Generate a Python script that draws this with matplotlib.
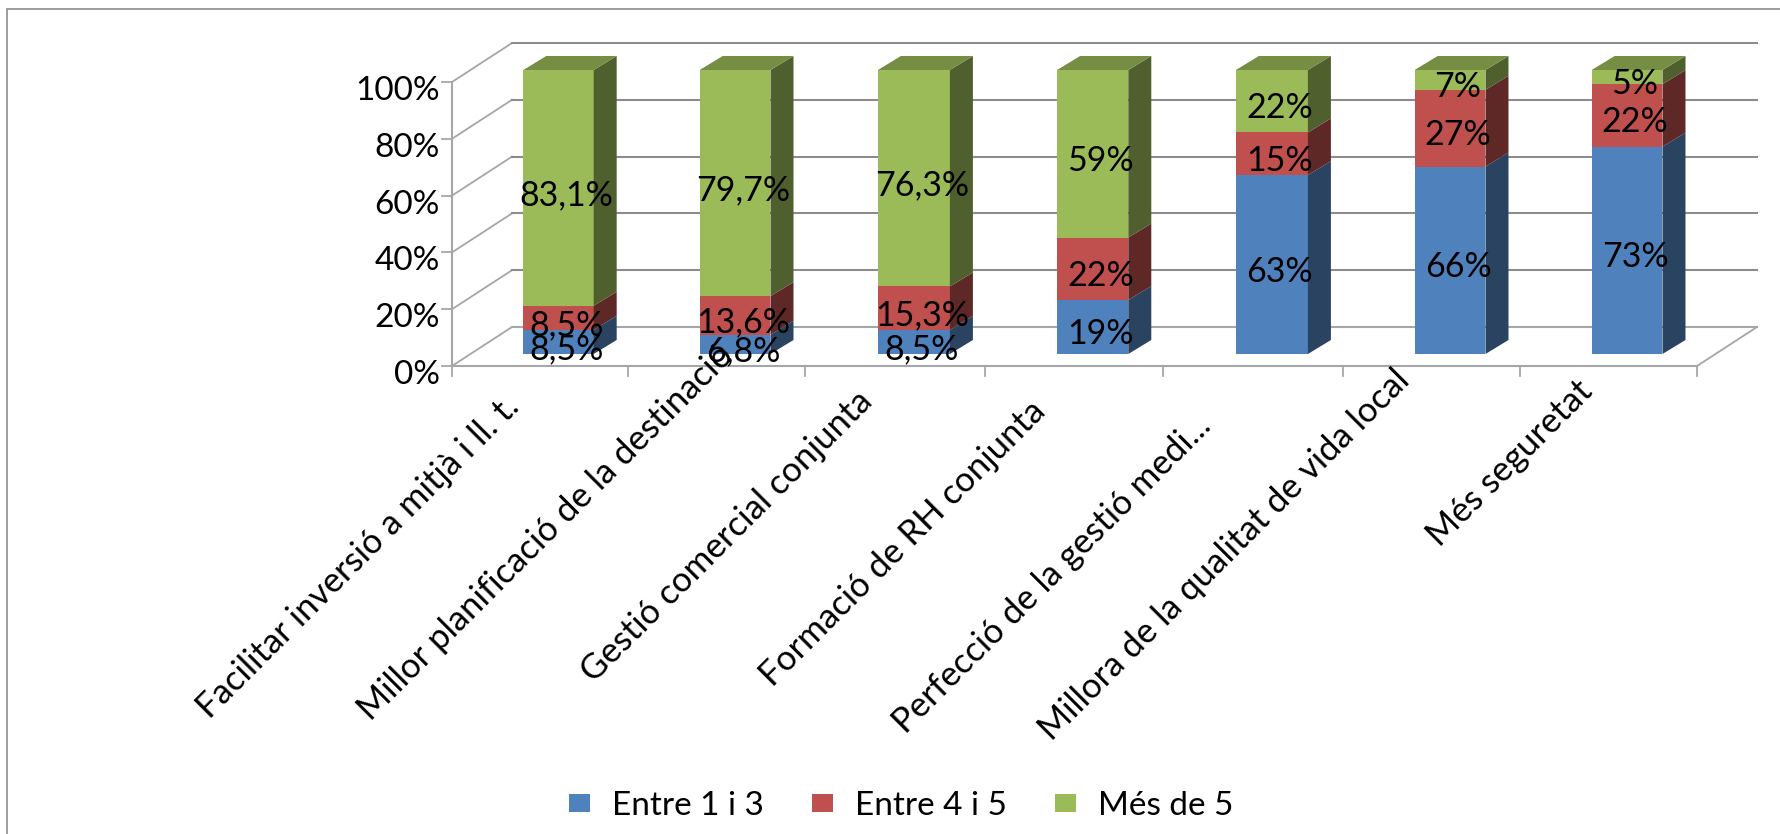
import numpy as np
import matplotlib
matplotlib.use("Agg")
import matplotlib.pyplot as plt
from matplotlib.patches import Polygon, Rectangle, Patch
from matplotlib.lines import Line2D

categories = ["Facilitar inversió a mitjà i ll. t.", "Millor planificació de la destinació",
              "Gestió comercial conjunta", "Formació de RH conjunta",
              "Perfecció de la gestió medi...", "Millora de la qualitat de vida local", "Més seguretat"]
series_names = ["Entre 1 i 3", "Entre 4 i 5", "Més de 5"]
entre_1_3 = [8.5, 6.8, 8.5, 19, 63, 66, 73]
entre_4_5 = [8.5, 13.6, 15.3, 22, 15, 27, 22]
mes_de_5 = [83.1, 79.7, 76.3, 59, 22, 7, 5]
labels_1_3 = ["8,5%", "6,8%", "8,5%", "19%", "63%", "66%", "73%"]
labels_4_5 = ["8,5%", "13,6%", "15,3%", "22%", "15%", "27%", "22%"]
labels_5 = ["83,1%", "79,7%", "76,3%", "59%", "22%", "7%", "5%"]
y_ticks = [0, 20, 40, 60, 80, 100]

# ---- layout (pixels) ----
W, H = 1780, 834
SLOT_EDGES = [452, 628, 805, 985, 1163, 1343, 1520, 1697]
FLOOR_Y, TOP_Y = 366, 82
WALL_DX, WALL_DY = 60, 39
BAR_DX, BAR_DY = 23, 14
BAR_LIFT = 12
BAR_WIDTH, BAR_SHIFT = 0.40, 0.105
# end of each rotated category label, relative to slot centre (x right, y down from floor)
LABEL_END_DX = [-26, 12, -28, -34, -47, -27, -21]
LABEL_END_DY = [36, -16, 30, 40, 55, 9, 20]
FRONT = ["#4F81BD", "#C0504D", "#9BBB59"]
SIDE = ["#294361", "#5E2826", "#4F5F2D"]
TOP = ["#3F6797", "#9A403E", "#758E44"]
FONT = "Lato"
GRID = "#8C8C8C"
WALL = "#A6A6A6"

plt.rcParams["font.family"] = [FONT, "DejaVu Sans"]
fig = plt.figure(figsize=(W / 100, H / 100), dpi=100, facecolor="white")
ax = fig.add_axes([SLOT_EDGES[0] / W, 1 - FLOOR_Y / H,
                   (SLOT_EDGES[-1] - SLOT_EDGES[0]) / W, (FLOOR_Y - TOP_Y) / H])
nodes = np.arange(len(SLOT_EDGES), dtype=float)
edges = np.array(SLOT_EDGES, dtype=float)
ax.set_xscale("function", functions=(lambda v: np.interp(v, nodes, edges),
                                     lambda p: np.interp(p, edges, nodes)))
ax.set_xlim(0, len(categories))
ax.set_ylim(0, 100)
ax.patch.set_alpha(0)
for s in ax.spines.values():
    s.set_visible(False)

def px(x, y):
    """data -> display coordinates"""
    return ax.transData.transform((x, y))

def poly(points, **kw):
    fig.add_artist(Polygon(points, closed=True, transform=None, **kw))

def line(points, color, lw=1.3, z=1):
    p = np.array(points, dtype=float)
    fig.add_artist(Line2D(p[:, 0], p[:, 1], transform=None, color=color, lw=lw, zorder=z))

# outer frame
fig.add_artist(Rectangle((6.5, -20), W + 40, H + 20 - 8.5, transform=None, fill=False,
                         edgecolor="#8C8C8C", lw=1.2, zorder=0))

# walls and gridlines
right = len(categories)
for v in y_ticks:
    a = px(0, v)
    b = a + (WALL_DX, WALL_DY)
    c = np.array([SLOT_EDGES[-1] + WALL_DX, b[1]])
    line([a, b], WALL)
    line([b, c], GRID if v else WALL, lw=1.5)
    line([a, a - (10, 0)], WALL)
line([px(0, 0), px(0, 100)], WALL, lw=1.5)
line([px(0, 0), px(right, 0)], WALL, lw=1.5)
fr = px(right, 0)
line([fr, (SLOT_EDGES[-1] + WALL_DX, fr[1] + WALL_DY)], WALL)
for i in range(len(SLOT_EDGES)):
    t = px(i, 0)
    line([t, t - (0, 10)], WALL)

# y tick labels
for v in y_ticks:
    a = px(0, v)
    fig.text(a[0] - 12, a[1] - 9, f"{v}%", transform=None, ha="right", va="center",
             fontsize=24, color="black", zorder=5)
ax.set_xticks([])
ax.set_yticks([])

# stacked bars
series = np.array([entre_1_3, entre_4_5, mes_de_5], dtype=float)
text_series = [labels_1_3, labels_4_5, labels_5]
bottoms = np.zeros(len(categories))
totals = series.sum(axis=0)
for k in range(3):
    values = series[k] / totals * 100
    for i in range(len(categories)):
        x0 = i + 0.5 + BAR_SHIFT - BAR_WIDTH / 2
        x1 = x0 + BAR_WIDTH
        lo, hi = bottoms[i], bottoms[i] + values[i]
        p0, p1 = px(x0, lo) + (0, BAR_LIFT), px(x1, lo) + (0, BAR_LIFT)
        p2, p3 = px(x1, hi) + (0, BAR_LIFT), px(x0, hi) + (0, BAR_LIFT)
        d = np.array([BAR_DX, BAR_DY], dtype=float)
        poly([p0, p1, p2, p3], facecolor=FRONT[k], edgecolor="none", zorder=4)
        poly([p1, p1 + d, p2 + d, p2], facecolor=SIDE[k], edgecolor="none", zorder=4)
        if k == 2:
            poly([p3, p2, p2 + d, p3 + d], facecolor=TOP[k], edgecolor="none", zorder=4)
        cx, cy = (p0 + p2) / 2
        fig.text(cx + 8, cy - 7, text_series[k][i], transform=None, ha="center", va="center",
                 fontsize=24.5, color="black", zorder=6)
    bottoms += values

# category labels
for i, name in enumerate(categories):
    tx, ty = px(i + 0.5, 0)
    fig.text(tx + LABEL_END_DX[i], ty - LABEL_END_DY[i], name, transform=None, rotation=45,
             rotation_mode="anchor", ha="right", va="center", fontsize=25, color="black", zorder=5)

# legend
handles = [Patch(facecolor=c, edgecolor="none") for c in FRONT]
fig.legend(handles, series_names, ncol=3, frameon=False, fontsize=24,
           loc="center", bbox_to_anchor=(901 / W, 1 - 806 / H),
           handlelength=0.62, handleheight=0.45, handletextpad=0.66, columnspacing=1.45)

fig.savefig("out.png", dpi=100)
